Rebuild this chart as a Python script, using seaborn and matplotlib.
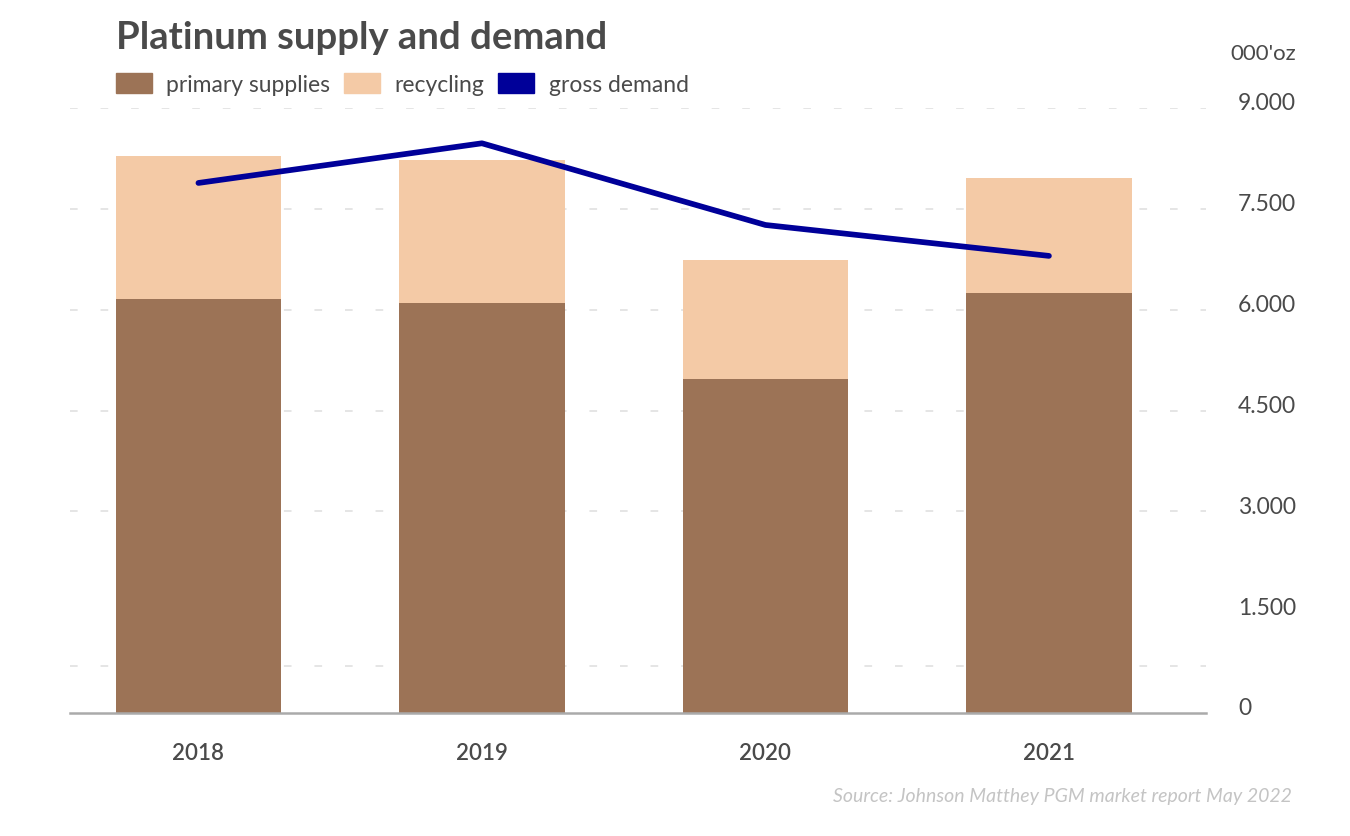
import numpy as np
import pandas as pd
import seaborn as sns
import matplotlib.pyplot as plt
from matplotlib.transforms import ScaledTranslation
from matplotlib.patches import Patch

years = ["2018", "2019", "2020", "2021"]
primary = [6160, 6100, 4970, 6250]
recycling = [2125, 2125, 1770, 1715]
gross_demand = [7885, 8475, 7260, 6800]

y_ticks = [0, 1500, 3000, 4500, 6000, 7500, 9000]
y_labels = ["0", "1.500", "3.000", "4.500", "6.000", "7.500", "9.000"]
grid_vals = [700, 3000, 4500, 6000, 7500, 9000]

c_primary = "#9c7356"
c_recycling = "#f4caa6"
c_demand = "#000099"
c_text = "#4a4a4a"

df = pd.DataFrame({"year": years, "primary": primary, "recycling": recycling,
                   "demand": gross_demand})
df["total"] = df["primary"] + df["recycling"]

sns.set_theme(style="white")
plt.rcParams["font.family"] = ["Lato", "DejaVu Sans"]

fig = plt.figure(figsize=(13.5, 8.37), dpi=100)
ax = fig.add_axes([70 / 1350, 1 - 714 / 837, (1206 - 70) / 1350, (714 - 109) / 837])

for v in grid_vals:
    ax.axhline(v, color="#dedede", lw=1.1, ls=(0, (5, 15)), zorder=0)

sns.barplot(data=df, x="year", y="total", color=c_recycling, width=0.585,
            saturation=1, linewidth=0, ax=ax, zorder=2)
sns.barplot(data=df, x="year", y="primary", color=c_primary, width=0.585,
            saturation=1, linewidth=0, ax=ax, zorder=3)
sns.lineplot(data=df, x="year", y="demand", color=c_demand, lw=4.1, ax=ax,
             zorder=4, solid_capstyle="round", solid_joinstyle="round")

ax.set_xlim(-0.453, 3.554)
ax.set_ylim(0, 9000)
ax.set_xlabel("")
ax.set_ylabel("")
for s in ["left", "right", "top"]:
    ax.spines[s].set_visible(False)
ax.spines["bottom"].set_color("#aaaaaa")
ax.spines["bottom"].set_linewidth(1.8)
ax.spines["bottom"].set_zorder(5)

ax.set_yticks(y_ticks, y_labels)
ax.tick_params(axis="y", left=False, right=False, labelleft=False, labelright=True,
               pad=17, labelsize=16.5, labelcolor=c_text)
ax.tick_params(axis="x", bottom=False, pad=15, labelsize=16, labelcolor=c_text)
for lbl in ax.get_xticklabels():
    lbl.set_fontweight("semibold")
off = ScaledTranslation(0, 0.07, fig.dpi_scale_trans)
for lbl in ax.get_yticklabels():
    lbl.set_transform(lbl.get_transform() + off)

fig.text(116 / 1350, 1 - 38 / 837, "Platinum supply and demand", fontsize=27.5,
         fontweight="bold", color=c_text, va="center", ha="left")
fig.text(1230 / 1350, 1 - 54 / 837, "000'oz", fontsize=16, color=c_text,
         va="center", ha="left")
fig.text(1292 / 1350, 1 - 797 / 837,
         "Source: Johnson Matthey PGM market report May 2022",
         fontsize=14, style="italic", color="#c4c4c4", va="center", ha="right")

handles = [Patch(color=c_primary), Patch(color=c_recycling), Patch(color=c_demand)]
fig.legend(handles, ["primary supplies", "recycling", "gross demand"],
           loc="center left", bbox_to_anchor=(116 / 1350, 1 - 85 / 837), ncol=3,
           frameon=False, fontsize=16.5, labelcolor=c_text, handlelength=1.55,
           handleheight=1.0, handletextpad=0.65, columnspacing=0.6, borderpad=0,
           borderaxespad=0)

fig.savefig("out.png", dpi=100)
